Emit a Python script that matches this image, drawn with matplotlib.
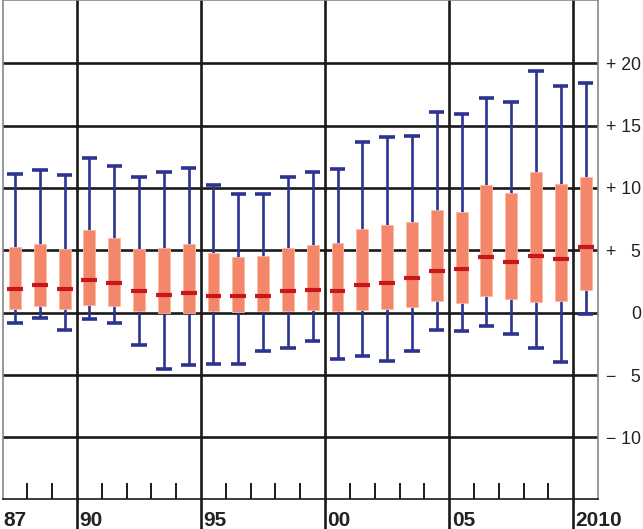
import numpy as np
import matplotlib.pyplot as plt

plt.rcParams['font.family'] = ['Liberation Sans', 'DejaVu Sans']

years = list(range(1987, 2011))
high = [11.1, 11.4, 11.0, 12.4, 11.8, 10.9, 11.3, 11.6, 10.2, 9.5, 9.5, 10.9,
        11.3, 11.5, 13.7, 14.1, 14.2, 16.1, 15.9, 17.2, 16.9, 19.4, 18.2, 18.4]
q3 = [5.3, 5.5, 5.1, 6.6, 6.0, 5.1, 5.2, 5.5, 4.75, 4.45, 4.55, 5.15,
      5.45, 5.6, 6.7, 7.05, 7.25, 8.25, 8.05, 10.2, 9.6, 11.25, 10.3, 10.9]
median = [1.9, 2.2, 1.9, 2.6, 2.4, 1.7, 1.45, 1.6, 1.35, 1.35, 1.35, 1.7,
          1.85, 1.75, 2.25, 2.4, 2.8, 3.35, 3.5, 4.45, 4.1, 4.55, 4.3, 5.25]
q1 = [0.3, 0.5, 0.3, 0.6, 0.5, 0.15, 0.0, 0.0, 0.1, 0.05, 0.1, 0.15,
      0.25, 0.1, 0.25, 0.3, 0.45, 0.9, 0.8, 1.35, 1.1, 0.85, 0.95, 1.85]
low = [-0.8, -0.4, -1.4, -0.5, -0.8, -2.6, -4.55, -4.2, -4.1, -4.1, -3.05, -2.8,
       -2.25, -3.7, -3.5, -3.9, -3.05, -1.35, -1.5, -1.1, -1.75, -2.8, -3.95, -0.1]

y_ticks = [-10, -5, 0, 5, 10, 15, 20]
y_labels = ['\u2212 10', '\u2212   5', '0', '+   5', '+ 10', '+ 15', '+ 20']
x_labels = {1987: '87', 1990: '90', 1995: '95', 2000: '00', 2005: '05', 2010: '2010'}

blue = '#2c3391'
salmon = '#f4866a'
red = '#c8161d'
grid = '#1a1a1a'

fig = plt.figure(figsize=(6.43, 5.29), dpi=100)
ax = fig.add_axes([2.6 / 643, 30 / 529, 595.4 / 643, 499 / 529])
ax.set_xlim(1987, 2011)
ax.set_ylim(-14.94, 25.07)

# grid
for yv in y_ticks:
    ax.axhline(yv, color=grid, lw=1.9, zorder=1)
for xv in range(1990, 2011, 5):
    ax.axvline(xv, ymin=-0.065, ymax=1, color=grid, lw=1.9, zorder=1, clip_on=False)
for xv in range(1988, 2010):
    if xv % 5:
        ax.axvline(xv, ymin=0, ymax=15 / 499, color=grid, lw=1.4, zorder=1)

x = np.array(years) + 0.5
ax.vlines(x, low, high, color=blue, lw=1.9, zorder=2)
ax.hlines(high, x - 0.31, x + 0.31, color=blue, lw=2.6, zorder=2)
ax.hlines(low, x - 0.31, x + 0.31, color=blue, lw=2.6, zorder=2)
ax.bar(x, np.array(q3) - np.array(q1), bottom=q1, width=0.48, color=salmon,
       edgecolor='#f9b9a6', lw=0.6, zorder=3)
ax.hlines(median, x - 0.32, x + 0.32, color=red, lw=3, zorder=4)

# axes styling
for s in ax.spines.values():
    s.set_color('#888888')
    s.set_linewidth(1.2)
ax.spines['bottom'].set_color(grid)

ax.set_xticks([])
ax.yaxis.tick_right()
ax.set_yticks(y_ticks)
ax.set_yticklabels(y_labels, fontsize=12.7, color='#222222')
ax.tick_params(axis='y', length=0, pad=31)
for lbl in ax.get_yticklabels():
    lbl.set_horizontalalignment('right')

for yr, txt in x_labels.items():
    off = 0.02 if yr == 1987 else 0.1
    ax.text(yr + off, -0.0535, txt, transform=ax.get_xaxis_transform(),
            ha='left', va='baseline', fontsize=15, fontweight='bold', color='#222222')

fig.savefig('out.png', dpi=100)
